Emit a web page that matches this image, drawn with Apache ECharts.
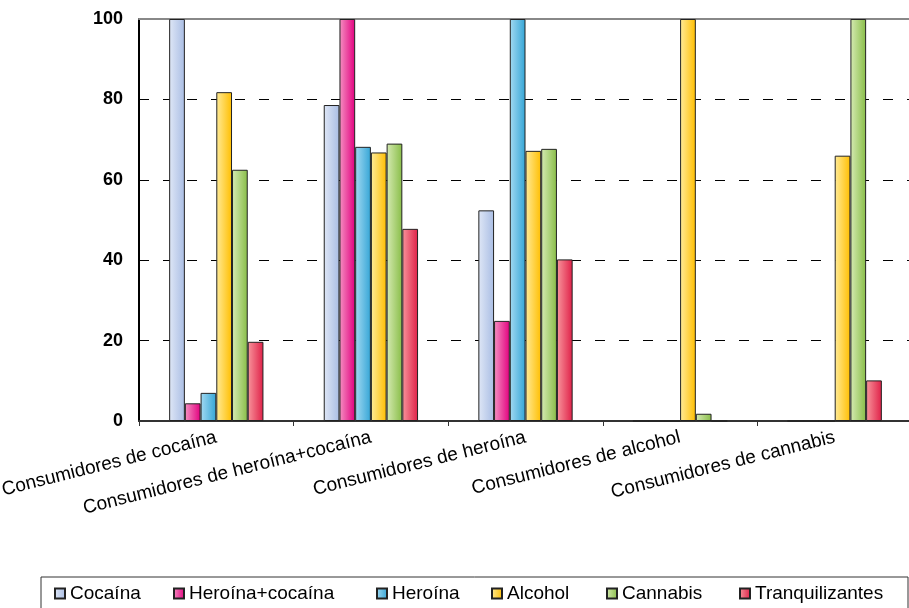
<!DOCTYPE html>
<html>
<head>
<meta charset="utf-8">
<script src="https://cdn.jsdelivr.net/npm/echarts@6/dist/echarts.min.js"></script>
<style>
  html, body { margin: 0; padding: 0; background: #fff; }
  #main { width: 909px; height: 608px; }
</style>
</head>
<body>
<div id="main"></div>
<script>
// categorias del eje x
var categories = ['Consumidores de cocaína', 'Consumidores de heroína+cocaína', 'Consumidores de heroína', 'Consumidores de alcohol', 'Consumidores de cannabis'];
var yTicks = [0, 20, 40, 60, 80, 100];

// valores (%)
var cocaina = [100, 78.6, 52.4, 0, 0];
var heroinaCocaina = [4.4, 100, 24.9, 0, 0];
var heroina = [7.0, 68.2, 100, 0, 0];
var alcohol = [81.8, 66.8, 67.2, 100, 66.0];
var cannabis = [62.5, 69.0, 67.7, 1.8, 100];
var tranquilizantes = [19.7, 47.8, 40.2, 0, 10.1];

var seriesNames = ['Cocaína', 'Heroína+cocaína', 'Heroína', 'Alcohol', 'Cannabis', 'Tranquilizantes'];
var seriesData = [cocaina, heroinaCocaina, heroina, alcohol, cannabis, tranquilizantes];
// colores degradados izquierda -> derecha
var colors = [
  ['#dfe7f6', '#a9bde4'],
  ['#f591c2', '#e2007f'],
  ['#a3daf2', '#34a5d6'],
  ['#ffeb99', '#ffbe00'],
  ['#d6eab3', '#88bd47'],
  ['#f8959c', '#df1f47']
];
var legendLeft = [54, 173, 376, 491, 606, 739];

var FONT = '"Liberation Sans", Arial, sans-serif';

var myChart = echarts.init(document.getElementById('main'));

var series = seriesNames.map(function (name, i) {
  return {
    name: name,
    type: 'bar',
    barGap: 0,
    barCategoryGap: '39%',
    data: seriesData[i],
    itemStyle: {
      color: new echarts.graphic.LinearGradient(0, 0, 1, 0, [
        { offset: 0, color: colors[i][0] },
        { offset: 1, color: colors[i][1] }
      ]),
      borderColor: '#222',
      borderWidth: 1
    }
  };
});

var legends = seriesNames.map(function (name, i) {
  return {
    data: [name],
    left: legendLeft[i],
    top: 584,
    padding: 0,
    itemWidth: 10,
    itemHeight: 10,
    icon: 'rect',
    textStyle: { fontFamily: FONT, fontSize: 19, color: '#000' }
  };
});

var option = {
  animation: false,
  backgroundColor: '#fff',
  textStyle: { fontFamily: FONT },
  grid: { left: 139, right: -3, top: 19, bottom: 187, containLabel: false, outerBoundsMode: 'none' },
  legend: legends,
  graphic: [{
    type: 'rect',
    shape: { x: 41, y: 577, width: 867, height: 40 },
    style: { fill: 'none', stroke: '#333', lineWidth: 1 },
    z: -1
  }],
  xAxis: [{
    type: 'category',
    data: categories,
    axisLine: { lineStyle: { color: '#333', width: 2 } },
    axisTick: { show: true, length: 5, lineStyle: { color: '#333', width: 1 } },
    axisLabel: {
      interval: 0,
      rotate: 14,
      margin: 16,
      fontFamily: FONT,
      fontSize: 19,
      color: '#000'
    },
    splitLine: { show: false }
  }, {
    type: 'category',
    position: 'top',
    data: categories,
    axisLine: { lineStyle: { color: '#888', width: 2 } },
    axisTick: { show: false },
    axisLabel: { show: false }
  }],
  yAxis: {
    type: 'value',
    min: yTicks[0],
    max: yTicks[yTicks.length - 1],
    interval: 20,
    axisLine: { show: true, lineStyle: { color: '#000', width: 2 } },
    axisTick: { show: false },
    axisLabel: {
      margin: 16,
      fontFamily: FONT,
      fontSize: 18,
      fontWeight: 'bold',
      color: '#000'
    },
    splitLine: {
      show: true,
      lineStyle: { color: '#000', width: 1, type: [10, 14], dashOffset: 0 }
    }
  },
  series: series
};

myChart.setOption(option);
</script>
</body>
</html>
